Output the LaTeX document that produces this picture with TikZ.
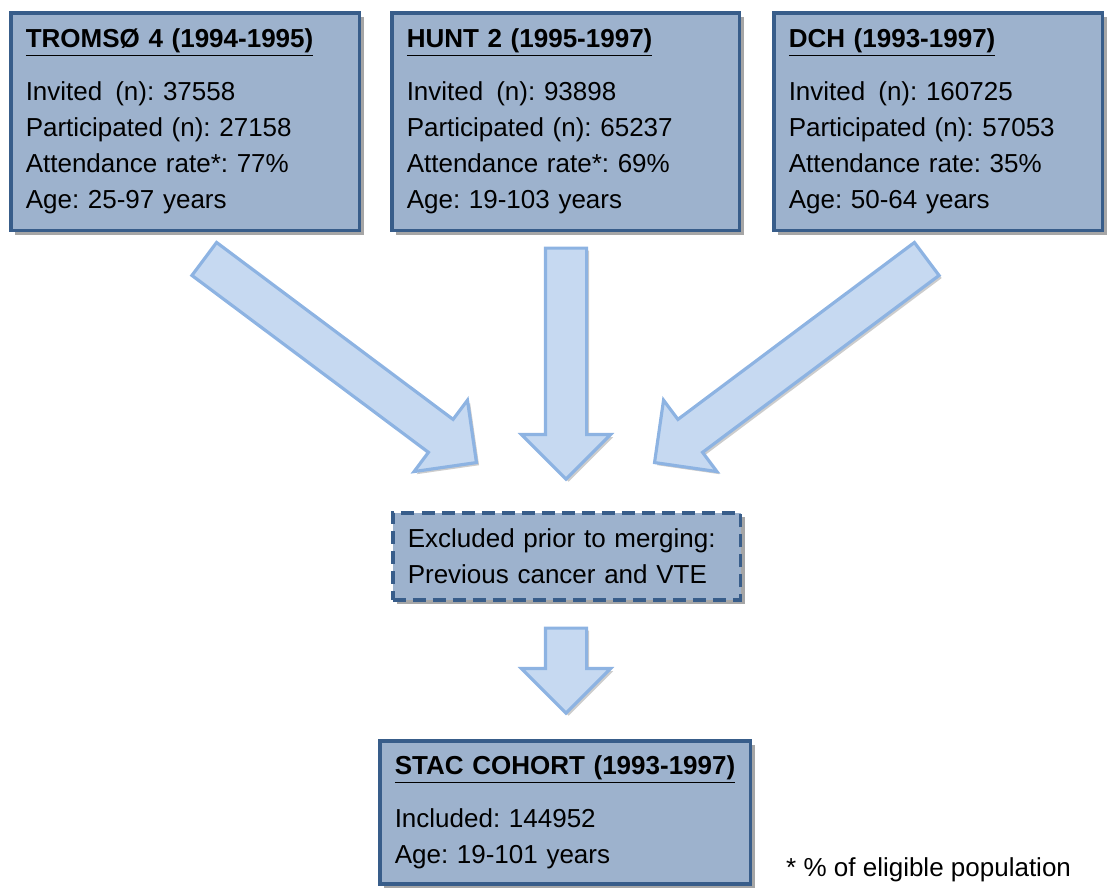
\documentclass[tikz,border=0pt]{standalone}
\usepackage{fontspec}
\setmainfont{Liberation Sans}
\frenchspacing
\usetikzlibrary{shapes.arrows,shadows}
\definecolor{boxfill}{HTML}{9DB2CD}
\definecolor{boxline}{HTML}{385D8A}
\definecolor{arrowfill}{HTML}{C6D9F1}
\definecolor{arrowline}{HTML}{8DB3E2}

\begin{document}
\begin{tikzpicture}[x=0.02cm, y=-0.02cm,
    cohort/.style={rectangle, draw=boxline, fill=boxfill, line width=2pt,
        anchor=north west, inner xsep=0.3cm, align=left,
        font=\fontsize{14.8pt}{20.5pt}\selectfont,
        drop shadow={shadow xshift=2.5pt, shadow yshift=-2.5pt, opacity=0.35, fill=black}},
    excl/.style={cohort, dash pattern=on 7.4pt off 4pt},
    bigarrow/.style={single arrow, draw=arrowline, fill=arrowfill, line width=1.8pt,
        inner sep=0pt, inner ysep=0.38cm, single arrow head extend=0.48cm,
        anchor=tail, drop shadow={shadow xshift=1.5pt, shadow yshift=-1.5pt, opacity=0.2, fill=black}}]
    \useasboundingbox (0,0) rectangle (1109,887);

    % three source cohorts
    \node[cohort, text width=6.38cm, minimum height=4.36cm] (tromso) at (9,11)
        {\underline{\textbf{TROMSØ 4 (1994-1995)}}\\[0.34cm]
         Invited\, (n): 37558\\ Participated (n): 27158\\
         Attendance rate*: 77\%\\ Age: 25-97 years};
    \node[cohort, text width=6.36cm, minimum height=4.36cm] (hunt) at (390,11)
        {\underline{\textbf{HUNT 2 (1995-1997)}}\\[0.34cm]
         Invited\, (n): 93898\\ Participated (n): 65237\\
         Attendance rate*: 69\%\\ Age: 19-103 years};
    \node[cohort, text width=5.98cm, minimum height=4.36cm] (dch) at (772,11)
        {\underline{\textbf{DCH (1993-1997)}}\\[0.34cm]
         Invited\, (n): 160725\\ Participated (n): 57053\\
         Attendance rate: 35\%\\ Age: 50-64 years};

    % merging step
    \node[excl, text width=6.36cm, minimum height=1.74cm] (excluded) at (391,511)
        {Excluded prior to merging:\\ Previous cancer and VTE};
    \node[cohort, text width=6.82cm, minimum height=2.86cm] (stac) at (378,739)
        {\underline{\textbf{STAC COHORT (1993-1997)}}\\[0.34cm]
         Included: 144952\\ Age: 19-101 years};

    % block arrows
    \node[bigarrow, minimum height=6.8cm, rotate=-36.8] (a1) at (203,258) {};
    \node[bigarrow, minimum height=4.62cm, rotate=-90] (a2) at (566,246.5) {};
    \node[bigarrow, minimum height=6.8cm, rotate=-143.2] (a3) at (928,258) {};
    \node[bigarrow, minimum height=1.7cm, rotate=-90] (a4) at (566,626.5) {};

    \node[anchor=west, font=\fontsize{14.8pt}{20.5pt}\selectfont] (note) at (780,870)
        {* \% of eligible population};
\end{tikzpicture}
\end{document}
